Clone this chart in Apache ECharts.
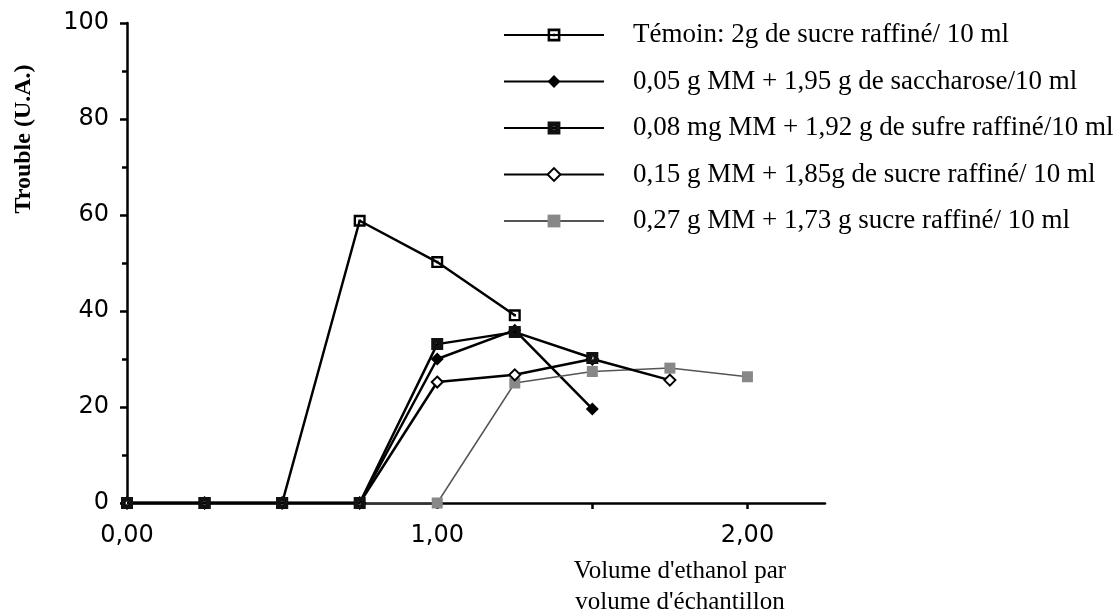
<!DOCTYPE html>
<html><head><meta charset="utf-8">
<script src="https://cdn.jsdelivr.net/npm/echarts@6/dist/echarts.min.js"></script>
<style>html,body{margin:0;padding:0;background:#fff}#c{width:1118px;height:616px}</style>
</head><body><div id="c"></div>
<script>
const seriesNames = [
  "Témoin: 2g de sucre raffiné/ 10 ml",
  "0,05 g MM + 1,95 g de saccharose/10 ml",
  "0,08 mg MM + 1,92 g de sufre raffiné/10 ml",
  "0,15 g MM + 1,85g de sucre raffiné/ 10 ml",
  "0,27 g MM + 1,73 g sucre raffiné/ 10 ml"
];
const temoin = [[0,0],[0.25,0],[0.5,0],[0.75,58.8],[1.0,50.2],[1.25,39.1]];
const mm005 = [[0,0],[0.25,0],[0.5,0],[0.75,0],[1.0,30],[1.25,36],[1.5,19.6]];
const mm008 = [[0,0],[0.25,0],[0.5,0],[0.75,0],[1.0,33.1],[1.25,35.6],[1.5,30.2]];
const mm015 = [[0,0],[0.25,0],[0.5,0],[0.75,0],[1.0,25.2],[1.25,26.7],[1.5,30],[1.75,25.6]];
const mm027 = [[0,0],[0.25,0],[0.5,0],[0.75,0],[1.0,0],[1.25,25],[1.5,27.4],[1.75,28.1],[2.0,26.3]];
const xTickValues = [0, 0.5, 1, 1.5, 2];
const xLabelValues = [0, 1, 2];
const yAxisTitle = "Trouble (U.A.)";
const xAxisTitle = "Volume d'ethanol par\nvolume d'échantillon";

const chart = echarts.init(document.getElementById('c'));
const serif = "'Liberation Serif', 'DejaVu Serif', serif";
const sans = "'DejaVu Sans', sans-serif";
const openSqDot = 'path://M0,0H10V10H0Z M2,2V8H8V2Z M4,4H6V6H4Z';
const darkSq = 'path://M0,0H10V10H0Z M4,4V6H6V4Z';
function mk(name, data, symbol, fill, border, bw, lineColor, lw, size, z){
  return {name, type:'line', data, symbol, symbolSize:size, showSymbol:true,
    lineStyle:{color:lineColor, width:lw},
    itemStyle:{color:fill, borderColor:border, borderWidth:bw},
    z: z, animation:false};
}
chart.setOption({
  animation:false,
  backgroundColor:'#fff',
  grid:{left:127, right:1118-825, top:23, bottom:113},
  legend:{
    orient:'vertical', left:498, top:15, itemWidth:100, itemHeight:16, itemGap:16.5,
    textStyle:{fontFamily:serif, fontSize:27, lineHeight:30, color:'#000', padding:[0,0,0,24]},
    data:seriesNames
  },
  xAxis:{type:'value', min:0, max:2.25, interval:0.25,
    axisLine:{lineStyle:{color:'#000', width:2.5}},
    axisTick:{length:6, customValues:xTickValues, lineStyle:{color:'#000', width:2.5}},
    splitLine:{show:false},
    axisLabel:{fontFamily:sans, fontSize:24, color:'#000', margin:21, customValues:xLabelValues,
      formatter:v => v.toFixed(2).replace('.', ',')}
  },
  yAxis:{type:'value', min:0, max:100, interval:20,
    axisLine:{show:true, lineStyle:{color:'#000', width:2.5}},
    axisTick:{length:7, lineStyle:{color:'#000', width:2.5}},
    minorTick:{show:true, splitNumber:2, length:5, lineStyle:{color:'#000', width:2.5}},
    splitLine:{show:false},
    axisLabel:{fontFamily:sans, fontSize:24, color:'#000', margin:18}
  },
  graphic:[
    {type:'text', x:24, y:139, rotation:Math.PI/2,
      style:{text:yAxisTitle, font:"bold 24px "+serif, fill:'#000', align:'center', verticalAlign:'middle'}},
    {type:'text', x:680, y:556,
      style:{text:xAxisTitle, font:"25px "+serif, fill:'#000', align:'center', verticalAlign:'top', lineHeight:31}}
  ],
  series:[
    mk(seriesNames[0], temoin, openSqDot, '#000', '#000', 0, '#000', 2.5, 12, 3),
    mk(seriesNames[1], mm005, 'diamond', '#000', '#000', 0, '#000', 2.5, 13, 3),
    mk(seriesNames[2], mm008, darkSq, '#111', '#000', 0, '#000', 2.5, 12, 5),
    mk(seriesNames[3], mm015, 'diamond', '#fff', '#000', 2, '#000', 2.5, 11, 4),
    mk(seriesNames[4], mm027, 'rect', '#888', '#888', 0, '#555', 1.5, 11, 3)
  ]
});
</script></body></html>
